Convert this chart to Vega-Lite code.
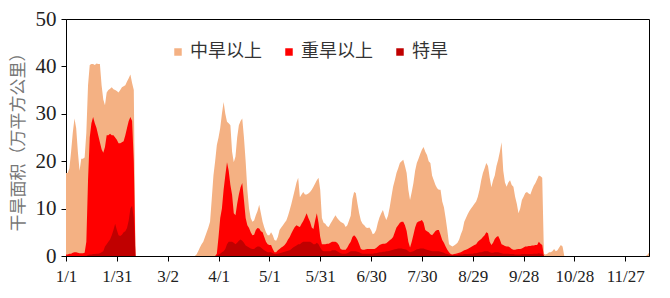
{
"$schema": "https://vega.github.io/schema/vega-lite/v6.json",
"width": 583, "height": 237,
"autosize": {"type": "none"},
"padding": {"left": 66, "top": 19, "right": 21, "bottom": 42},
"config": {
  "view": {"stroke": "#000", "strokeWidth": 1},
  "axis": {"grid": false, "domainColor": "#000", "tickColor": "#000", "tickSize": 5, "labelColor": "#222", "labelFont": "Liberation Serif"},
  "legend": {"orient": "none", "legendX": 103, "legendY": 24, "direction": "horizontal", "symbolType": "square", "symbolSize": 56, "symbolStrokeWidth": 0, "labelFont": "Noto Sans CJK SC", "labelFontSize": 18, "labelColor": "#333", "columnPadding": 18, "labelOffset": 3}
},
"data": {"values": [
{"d":0,"a":17.5,"b":0.3,"c":0},{"d":1,"a":17.5,"b":0.3,"c":0},{"d":2,"a":18.5,"b":0.5,"c":0},{"d":3,"a":22,"b":0.5,"c":0},{"d":4,"a":26,"b":0.7,"c":0},{"d":5,"a":29,"b":0.8,"c":0},{"d":6,"a":27,"b":0.8,"c":0},{"d":7,"a":22,"b":0.7,"c":0},{"d":8,"a":18,"b":0.6,"c":0},{"d":9,"a":20.5,"b":0.6,"c":0},
{"d":10,"a":20.5,"b":0.6,"c":0},{"d":11,"a":20.8,"b":0.7,"c":0},{"d":12,"a":26,"b":3,"c":0},{"d":13,"a":36,"b":16,"c":0.2},{"d":14,"a":40.3,"b":25,"c":0.3},{"d":15,"a":40.5,"b":28,"c":0.3},{"d":16,"a":40.5,"b":29.3,"c":0.4},{"d":17,"a":40.3,"b":28,"c":0.4},{"d":18,"a":40.6,"b":27,"c":0.5},{"d":19,"a":40.5,"b":25.5,"c":0.5},
{"d":20,"a":40.5,"b":24,"c":0.6},{"d":21,"a":36,"b":22.5,"c":0.8},{"d":22,"a":33,"b":21.8,"c":1},{"d":23,"a":31.8,"b":23,"c":2},{"d":24,"a":34.5,"b":25.5,"c":2.5},{"d":25,"a":35,"b":25.5,"c":3},{"d":26,"a":35.3,"b":25.8,"c":3.5},{"d":27,"a":35.6,"b":25.5,"c":4.4},{"d":28,"a":35.2,"b":25.5,"c":5.5},{"d":29,"a":35,"b":25,"c":6.8},
{"d":30,"a":34.8,"b":24.5,"c":5.5},{"d":31,"a":34.5,"b":23.8,"c":4.4},{"d":32,"a":35,"b":23.8,"c":4.2},{"d":33,"a":35.6,"b":24,"c":4.5},{"d":34,"a":35.8,"b":24.2,"c":5},{"d":35,"a":36,"b":25.5,"c":5.2},{"d":36,"a":36.8,"b":27,"c":5.9},{"d":37,"a":37.5,"b":28.5,"c":7.5},{"d":38,"a":38.3,"b":29.3,"c":10},{"d":39,"a":36.5,"b":28.5,"c":10.6},
{"d":40,"a":35,"b":20,"c":8},{"d":41,"a":0,"b":0,"c":0},{"d":42,"a":0,"b":0,"c":0},{"d":43,"a":0,"b":0,"c":0},{"d":44,"a":0,"b":0,"c":0},{"d":45,"a":0,"b":0,"c":0},{"d":46,"a":0,"b":0,"c":0},{"d":47,"a":0,"b":0,"c":0},{"d":48,"a":0,"b":0,"c":0},{"d":49,"a":0,"b":0,"c":0},
{"d":50,"a":0,"b":0,"c":0},{"d":51,"a":0,"b":0,"c":0},{"d":52,"a":0,"b":0,"c":0},{"d":53,"a":0,"b":0,"c":0},{"d":54,"a":0,"b":0,"c":0},{"d":55,"a":0,"b":0,"c":0},{"d":56,"a":0,"b":0,"c":0},{"d":57,"a":0,"b":0,"c":0},{"d":58,"a":0,"b":0,"c":0},{"d":59,"a":0,"b":0,"c":0},
{"d":60,"a":0,"b":0,"c":0},{"d":61,"a":0,"b":0,"c":0},{"d":62,"a":0,"b":0,"c":0},{"d":63,"a":0,"b":0,"c":0},{"d":64,"a":0,"b":0,"c":0},{"d":65,"a":0,"b":0,"c":0},{"d":66,"a":0,"b":0,"c":0},{"d":67,"a":0,"b":0,"c":0},{"d":68,"a":0,"b":0,"c":0},{"d":69,"a":0,"b":0,"c":0},
{"d":70,"a":0,"b":0,"c":0},{"d":71,"a":0,"b":0,"c":0},{"d":72,"a":0,"b":0,"c":0},{"d":73,"a":0,"b":0,"c":0},{"d":74,"a":0,"b":0,"c":0},{"d":75,"a":0,"b":0,"c":0},{"d":76,"a":0,"b":0,"c":0},{"d":77,"a":0.3,"b":0,"c":0},{"d":78,"a":1,"b":0,"c":0},{"d":79,"a":1.8,"b":0,"c":0},
{"d":80,"a":2.5,"b":0,"c":0},{"d":81,"a":3,"b":0,"c":0},{"d":82,"a":4,"b":0,"c":0},{"d":83,"a":5,"b":0,"c":0},{"d":84,"a":6,"b":0,"c":0},{"d":85,"a":7.2,"b":0,"c":0},{"d":86,"a":12,"b":0,"c":0},{"d":87,"a":17,"b":0,"c":0},{"d":88,"a":20,"b":0,"c":0},{"d":89,"a":23.4,"b":0.5,"c":0},
{"d":90,"a":25,"b":4,"c":0.3},{"d":91,"a":27,"b":8,"c":0.5},{"d":92,"a":30,"b":10,"c":0.8},{"d":93,"a":32.5,"b":14,"c":1},{"d":94,"a":30,"b":17,"c":1.5},{"d":95,"a":28.3,"b":19.8,"c":2.5},{"d":96,"a":28,"b":18,"c":3},{"d":97,"a":27.6,"b":15,"c":3},{"d":98,"a":22,"b":12.9,"c":3},{"d":99,"a":19.8,"b":9,"c":2.8},
{"d":100,"a":21,"b":8.6,"c":2.5},{"d":101,"a":25,"b":11,"c":2.8},{"d":102,"a":27.6,"b":13,"c":3.2},{"d":103,"a":28.5,"b":14.5,"c":3.5},{"d":104,"a":29,"b":15.4,"c":3.2},{"d":105,"a":25,"b":11.8,"c":2.8},{"d":106,"a":20,"b":8,"c":2.2},{"d":107,"a":14,"b":6.5,"c":2},{"d":108,"a":10,"b":5.9,"c":1.8},{"d":109,"a":8,"b":5,"c":1.6},
{"d":110,"a":7.2,"b":4.4,"c":1.5},{"d":111,"a":7.5,"b":4.5,"c":1.5},{"d":112,"a":8.6,"b":5.5,"c":1.8},{"d":113,"a":9.5,"b":5.9,"c":2},{"d":114,"a":10.8,"b":5.8,"c":2},{"d":115,"a":9,"b":5.2,"c":1.8},{"d":116,"a":7.2,"b":5,"c":1.5},{"d":117,"a":6,"b":4,"c":1.2},{"d":118,"a":5,"b":3,"c":1},{"d":119,"a":4.4,"b":2.5,"c":0.8},
{"d":120,"a":4.4,"b":2.3,"c":0.8},{"d":121,"a":5,"b":2.3,"c":0.8},{"d":122,"a":4.4,"b":1.5,"c":0.6},{"d":123,"a":3.4,"b":0.8,"c":0.4},{"d":124,"a":3.2,"b":0.8,"c":0.4},{"d":125,"a":4,"b":1.2,"c":0.5},{"d":126,"a":5.5,"b":1.5,"c":0.6},{"d":127,"a":6,"b":1.8,"c":0.7},{"d":128,"a":6.5,"b":2,"c":0.8},{"d":129,"a":7,"b":2.3,"c":0.9},
{"d":130,"a":7.5,"b":2.8,"c":1},{"d":131,"a":8.5,"b":3.5,"c":1.1},{"d":132,"a":9.7,"b":4,"c":1.2},{"d":133,"a":11,"b":4.8,"c":1.5},{"d":134,"a":12.5,"b":5.5,"c":1.8},{"d":135,"a":14,"b":6.1,"c":2},{"d":136,"a":15.5,"b":6.5,"c":2.2},{"d":137,"a":16.5,"b":6.3,"c":2.5},{"d":138,"a":12.4,"b":6.1,"c":2.5},{"d":139,"a":13,"b":6.8,"c":2.8},
{"d":140,"a":13.5,"b":7.4,"c":3},{"d":141,"a":13,"b":8.2,"c":3},{"d":142,"a":13,"b":9,"c":3},{"d":143,"a":13.2,"b":8,"c":3},{"d":144,"a":13.5,"b":7.2,"c":3},{"d":145,"a":14,"b":6,"c":2.8},{"d":146,"a":14.6,"b":5.7,"c":2.5},{"d":147,"a":15.3,"b":7.5,"c":2.5},{"d":148,"a":16,"b":9,"c":2.8},{"d":149,"a":16.5,"b":7,"c":2.5},
{"d":150,"a":14,"b":4,"c":1.8},{"d":151,"a":8,"b":2.5,"c":1.2},{"d":152,"a":7,"b":2.5,"c":1},{"d":153,"a":6.8,"b":2.5,"c":1},{"d":154,"a":6.3,"b":2.6,"c":1},{"d":155,"a":6.1,"b":2.6,"c":1},{"d":156,"a":6.8,"b":2.8,"c":1},{"d":157,"a":7.4,"b":3,"c":1.2},{"d":158,"a":8,"b":3,"c":1.2},{"d":159,"a":8.6,"b":3,"c":1.2},
{"d":160,"a":8,"b":2.8,"c":1},{"d":161,"a":7.6,"b":2.3,"c":0.8},{"d":162,"a":7.2,"b":1.5,"c":0.6},{"d":163,"a":7,"b":1.3,"c":0.5},{"d":164,"a":6.8,"b":1.3,"c":0.5},{"d":165,"a":6.1,"b":1.3,"c":0.5},{"d":166,"a":6.5,"b":1.8,"c":0.6},{"d":167,"a":7.5,"b":2.5,"c":0.8},{"d":168,"a":8.5,"b":3,"c":1},{"d":169,"a":12,"b":4,"c":1},
{"d":170,"a":13.5,"b":4.4,"c":1},{"d":171,"a":13.3,"b":4,"c":1},{"d":172,"a":11,"b":3.4,"c":0.9},{"d":173,"a":9,"b":2.5,"c":0.8},{"d":174,"a":7.5,"b":1.5,"c":0.6},{"d":175,"a":6.8,"b":1.3,"c":0.5},{"d":176,"a":6.5,"b":1.3,"c":0.5},{"d":177,"a":6,"b":1.4,"c":0.5},{"d":178,"a":5.9,"b":1.5,"c":0.5},{"d":179,"a":6,"b":1.5,"c":0.5},
{"d":180,"a":5.5,"b":1.5,"c":0.5},{"d":181,"a":4.6,"b":1.5,"c":0.5},{"d":182,"a":4.8,"b":1.5,"c":0.6},{"d":183,"a":5.5,"b":1.7,"c":0.6},{"d":184,"a":7,"b":2,"c":0.7},{"d":185,"a":8.2,"b":2.3,"c":0.8},{"d":186,"a":9,"b":2.5,"c":0.8},{"d":187,"a":9.7,"b":2.6,"c":0.9},{"d":188,"a":8.5,"b":2.6,"c":0.9},{"d":189,"a":7.6,"b":2.7,"c":1},
{"d":190,"a":8.5,"b":3,"c":1},{"d":191,"a":10.3,"b":3.3,"c":1.1},{"d":192,"a":12.5,"b":3.6,"c":1.2},{"d":193,"a":14.6,"b":4,"c":1.3},{"d":194,"a":16,"b":5,"c":1.4},{"d":195,"a":17.5,"b":6,"c":1.5},{"d":196,"a":18.5,"b":6.5,"c":1.6},{"d":197,"a":19.6,"b":7,"c":1.6},{"d":198,"a":20,"b":7.2,"c":1.6},{"d":199,"a":20.3,"b":7.2,"c":1.5},
{"d":200,"a":19,"b":6.5,"c":1.4},{"d":201,"a":17.5,"b":5.3,"c":1.3},{"d":202,"a":14,"b":3,"c":1},{"d":203,"a":11.8,"b":1.8,"c":0.8},{"d":204,"a":13.5,"b":3,"c":0.9},{"d":205,"a":15.4,"b":4.5,"c":1},{"d":206,"a":18,"b":6,"c":1.2},{"d":207,"a":19.6,"b":7,"c":1.4},{"d":208,"a":20.5,"b":7.3,"c":1.5},{"d":209,"a":21.5,"b":7.4,"c":1.6},
{"d":210,"a":22.4,"b":7.6,"c":1.6},{"d":211,"a":23,"b":7,"c":1.6},{"d":212,"a":22,"b":5.5,"c":1.4},{"d":213,"a":21.3,"b":5.2,"c":1.3},{"d":214,"a":20,"b":5,"c":1.2},{"d":215,"a":19.6,"b":4.6,"c":1.1},{"d":216,"a":17,"b":4.4,"c":1},{"d":217,"a":16,"b":4.8,"c":1},{"d":218,"a":15,"b":5.3,"c":1},{"d":219,"a":14.3,"b":5.5,"c":1},
{"d":220,"a":14,"b":5.5,"c":1},{"d":221,"a":14,"b":4.5,"c":0.9},{"d":222,"a":11.5,"b":3.4,"c":0.8},{"d":223,"a":10.3,"b":2.8,"c":0.7},{"d":224,"a":8,"b":2,"c":0.5},{"d":225,"a":5.5,"b":1.3,"c":0.4},{"d":226,"a":2.5,"b":0.8,"c":0.3},{"d":227,"a":2.2,"b":0.4,"c":0.2},{"d":228,"a":2,"b":0.3,"c":0.2},{"d":229,"a":2.2,"b":0.4,"c":0.2},
{"d":230,"a":2.5,"b":0.5,"c":0.2},{"d":231,"a":2.8,"b":0.6,"c":0.2},{"d":232,"a":3.5,"b":0.7,"c":0.3},{"d":233,"a":4.6,"b":0.8,"c":0.3},{"d":234,"a":5.5,"b":1,"c":0.3},{"d":235,"a":7.2,"b":1.2,"c":0.4},{"d":236,"a":8,"b":1.3,"c":0.4},{"d":237,"a":8.8,"b":1.5,"c":0.4},{"d":238,"a":9.5,"b":1.7,"c":0.5},{"d":239,"a":10,"b":1.9,"c":0.5},
{"d":240,"a":10.5,"b":2.1,"c":0.5},{"d":241,"a":11,"b":2.3,"c":0.6},{"d":242,"a":11.5,"b":2.5,"c":0.6},{"d":243,"a":12.5,"b":3,"c":0.7},{"d":244,"a":14,"b":3.3,"c":0.8},{"d":245,"a":16,"b":3.6,"c":0.8},{"d":246,"a":17.5,"b":4,"c":0.9},{"d":247,"a":18.5,"b":4.4,"c":1},{"d":248,"a":19.6,"b":5,"c":1},{"d":249,"a":19,"b":4.8,"c":1},
{"d":250,"a":16.5,"b":3,"c":0.8},{"d":251,"a":14.5,"b":2.3,"c":0.7},{"d":252,"a":16,"b":2.8,"c":0.7},{"d":253,"a":17,"b":3.6,"c":0.8},{"d":254,"a":19,"b":4,"c":0.8},{"d":255,"a":20.3,"b":4.2,"c":0.8},{"d":256,"a":22,"b":3.5,"c":0.7},{"d":257,"a":24,"b":2.5,"c":0.6},{"d":258,"a":18,"b":2.3,"c":0.5},{"d":259,"a":15.5,"b":2.1,"c":0.5},
{"d":260,"a":14.6,"b":2,"c":0.5},{"d":261,"a":15.5,"b":2,"c":0.5},{"d":262,"a":16,"b":1.8,"c":0.4},{"d":263,"a":15,"b":1.5,"c":0.4},{"d":264,"a":14.6,"b":1.3,"c":0.4},{"d":265,"a":12.5,"b":1.3,"c":0.3},{"d":266,"a":11,"b":1.4,"c":0.3},{"d":267,"a":9,"b":1.5,"c":0.3},{"d":268,"a":10,"b":1.5,"c":0.3},{"d":269,"a":11.8,"b":1.6,"c":0.4},
{"d":270,"a":12.5,"b":1.8,"c":0.4},{"d":271,"a":13.3,"b":2,"c":0.4},{"d":272,"a":13.5,"b":2,"c":0.4},{"d":273,"a":13.2,"b":2.1,"c":0.4},{"d":274,"a":13,"b":2.1,"c":0.4},{"d":275,"a":14,"b":2.2,"c":0.4},{"d":276,"a":14.8,"b":2.2,"c":0.5},{"d":277,"a":15.4,"b":2.3,"c":0.5},{"d":278,"a":16.2,"b":2.3,"c":0.5},{"d":279,"a":17,"b":3,"c":0.6},
{"d":280,"a":16.8,"b":2.6,"c":0.5},{"d":281,"a":16.5,"b":2.3,"c":0.5},{"d":282,"a":0.5,"b":0,"c":0},{"d":283,"a":0.3,"b":0,"c":0},{"d":284,"a":0.5,"b":0,"c":0},{"d":285,"a":0.8,"b":0,"c":0},{"d":286,"a":0.8,"b":0,"c":0},{"d":287,"a":1,"b":0,"c":0},{"d":288,"a":1.5,"b":0,"c":0},{"d":289,"a":1,"b":0,"c":0},
{"d":290,"a":1.2,"b":0,"c":0},{"d":291,"a":1.8,"b":0,"c":0},{"d":292,"a":2.3,"b":0,"c":0},{"d":293,"a":2,"b":0,"c":0},{"d":294,"a":0,"b":0,"c":0},{"d":295,"a":0,"b":0,"c":0},{"d":296,"a":0,"b":0,"c":0},{"d":297,"a":0,"b":0,"c":0},{"d":298,"a":0,"b":0,"c":0},{"d":299,"a":0,"b":0,"c":0},
{"d":300,"a":0,"b":0,"c":0},{"d":301,"a":0,"b":0,"c":0},{"d":302,"a":0,"b":0,"c":0},{"d":303,"a":0,"b":0,"c":0},{"d":304,"a":0,"b":0,"c":0},{"d":305,"a":0,"b":0,"c":0},{"d":306,"a":0,"b":0,"c":0},{"d":307,"a":0,"b":0,"c":0},{"d":308,"a":0,"b":0,"c":0},{"d":309,"a":0,"b":0,"c":0},
{"d":310,"a":0,"b":0,"c":0},{"d":311,"a":0,"b":0,"c":0},{"d":312,"a":0,"b":0,"c":0},{"d":313,"a":0,"b":0,"c":0},{"d":314,"a":0,"b":0,"c":0},{"d":315,"a":0,"b":0,"c":0},{"d":316,"a":0,"b":0,"c":0},{"d":317,"a":0,"b":0,"c":0},{"d":318,"a":0,"b":0,"c":0},{"d":319,"a":0,"b":0,"c":0},
{"d":320,"a":0,"b":0,"c":0},{"d":321,"a":0,"b":0,"c":0},{"d":322,"a":0,"b":0,"c":0},{"d":323,"a":0,"b":0,"c":0},{"d":324,"a":0,"b":0,"c":0},{"d":325,"a":0,"b":0,"c":0},{"d":326,"a":0,"b":0,"c":0},{"d":327,"a":0,"b":0,"c":0},{"d":328,"a":0,"b":0,"c":0},{"d":329,"a":0,"b":0,"c":0},
{"d":330,"a":0,"b":0,"c":0},{"d":331,"a":0,"b":0,"c":0},{"d":332,"a":0,"b":0,"c":0},{"d":333,"a":0,"b":0,"c":0},{"d":334,"a":0,"b":0,"c":0},{"d":335,"a":0,"b":0,"c":0},{"d":336,"a":0,"b":0,"c":0},{"d":337,"a":0,"b":0,"c":0},{"d":338,"a":0,"b":0,"c":0},{"d":339,"a":0,"b":0,"c":0},
{"d":340,"a":0,"b":0,"c":0},{"d":341,"a":0,"b":0,"c":0},{"d":342,"a":0,"b":0,"c":0},{"d":343,"a":0.2,"b":0,"c":0},{"d":344,"a":0.7,"b":0,"c":0}
]},
"encoding": {
  "x": {"field": "d", "type": "quantitative",
        "scale": {"domain": [0, 344], "nice": false, "zero": false},
        "axis": {"title": null, "values": [0,30,60,90,120,150,180,210,240,270,300,330], "labelExpr": "timeFormat(datetime(2021, 0, 1 + datum.value), '%-m/%-d')", "labelFontSize": 17, "labelPadding": 7, "labelFlush": false}}
},
"layer": [
  {"mark": {"type": "area", "interpolate": "linear"},
   "encoding": {
     "y": {"field": "a", "type": "quantitative", "stack": null,
           "scale": {"domain": [0, 50], "nice": false},
           "axis": {"title": "干旱面积（万平方公里）", "values": [0,10,20,30,40,50], "labelFontSize": 21, "labelPadding": 5, "titleFont": "Noto Sans CJK SC", "titleFontSize": 17, "titleFontWeight": "normal", "titleColor": "#777", "titlePadding": 8}},
     "color": {"datum": "中旱以上", "type": "nominal",
               "scale": {"domain": ["中旱以上", "重旱以上", "特旱"], "range": ["#F4B183", "#FF0000", "#C00000"]},
               "legend": {"title": null}}
   }},
  {"mark": {"type": "area", "interpolate": "linear"},
   "encoding": {
     "y": {"field": "b", "type": "quantitative", "stack": null},
     "color": {"datum": "重旱以上", "type": "nominal"}
   }},
  {"mark": {"type": "area", "interpolate": "linear"},
   "encoding": {
     "y": {"field": "c", "type": "quantitative", "stack": null},
     "color": {"datum": "特旱", "type": "nominal"}
   }}
]
}
